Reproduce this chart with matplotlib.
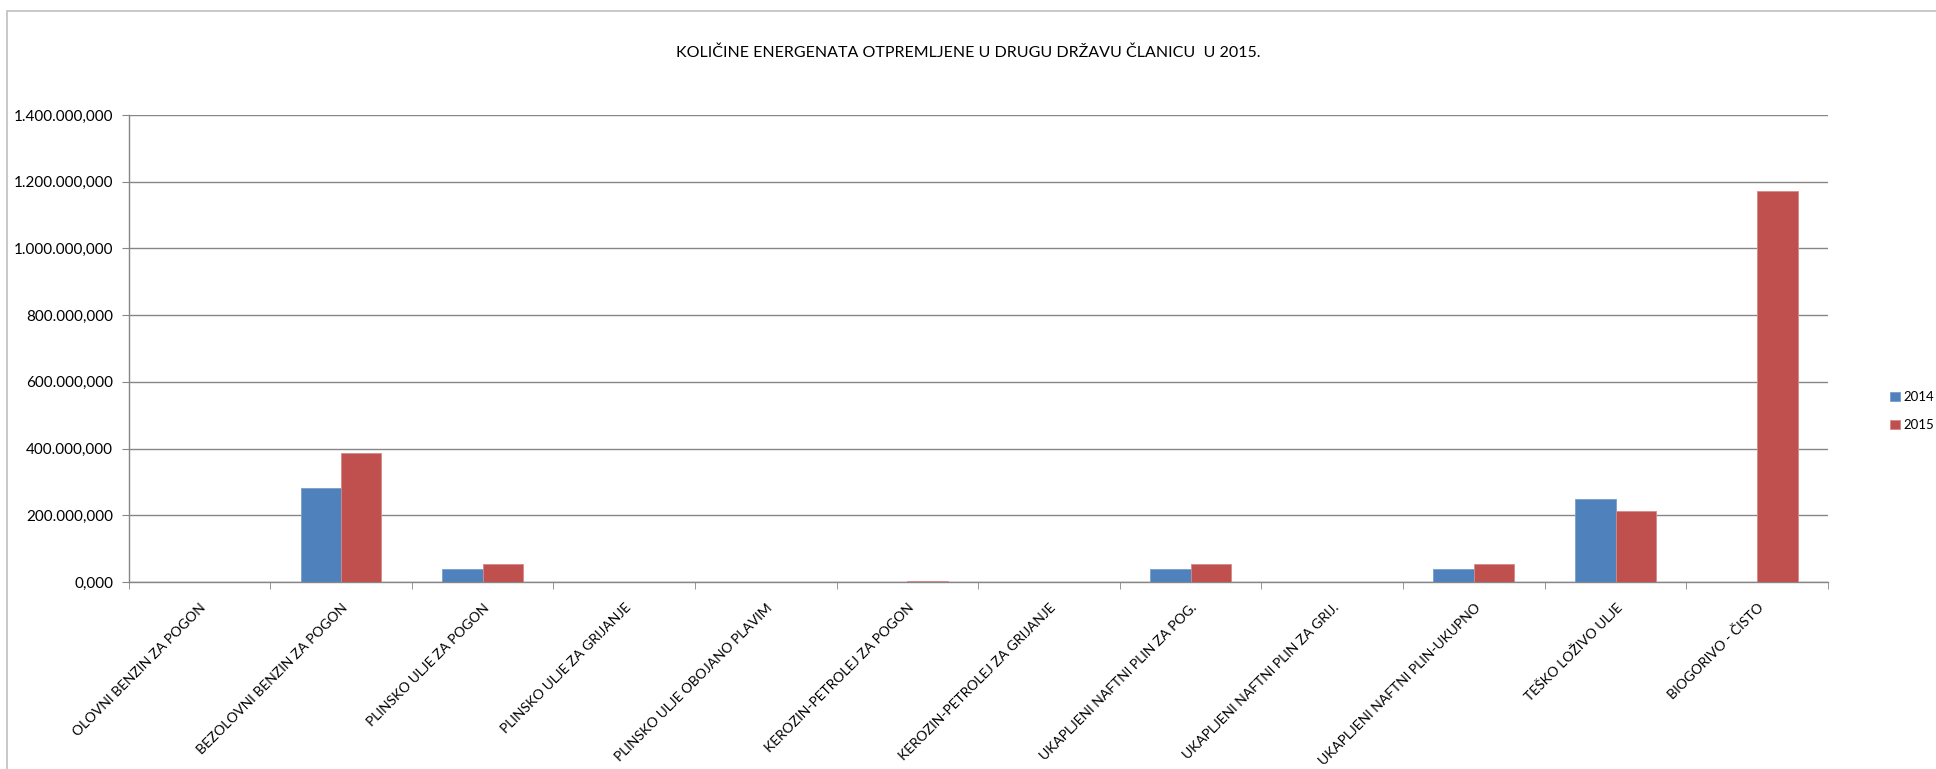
import numpy as np
import matplotlib
matplotlib.use('Agg')
import matplotlib.pyplot as plt
from matplotlib.patches import Rectangle
from matplotlib.ticker import FuncFormatter, FixedLocator

plt.rcParams['font.family'] = ['Lato', 'DejaVu Sans']

# Podaci (procijenjeno s grafikona)
kategorije = ['OLOVNI BENZIN ZA POGON', 'BEZOLOVNI BENZIN ZA POGON', 'PLINSKO ULJE ZA POGON',
              'PLINSKO ULJE ZA GRIJANJE', 'PLINSKO ULJE OBOJANO PLAVIM', 'KEROZIN-PETROLEJ ZA POGON',
              'KEROZIN-PETROLEJ ZA GRIJANJE', 'UKAPLJENI NAFTNI PLIN ZA POG.', 'UKAPLJENI NAFTNI PLIN ZA GRIJ.',
              'UKAPLJENI NAFTNI PLIN-UKUPNO', 'TEŠKO LOŽIVO ULJE', 'BIOGORIVO - ČISTO']
god_2014 = [0, 283000, 39000, 0, 0, 0, 0, 39000, 0, 39000, 250000, 0]
god_2015 = [0, 388000, 55000, 0, 0, 3000, 0, 55000, 0, 55000, 212000, 1171000]
serije = ['2014', '2015']
y_ticks = np.arange(0, 1400000 + 1, 200000)

plava = '#4F81BD'
crvena = '#C0504D'
siva = '#868686'

fig = plt.figure(figsize=(19.36, 7.69), dpi=100)
ax = fig.add_axes([0.0664, 0.2432, 0.8778, 0.6073])

# okvir grafikona
fig.patches.append(Rectangle((7 / 1936, -0.1), 1.2, 1 - 11 / 769 + 0.1, transform=fig.transFigure,
                             fill=False, edgecolor='#BFBFBF', linewidth=1.2))

x = np.arange(len(kategorije))
w = 1 / 3.5
ax.bar(x - w / 2, god_2014, w, color=plava, edgecolor='#7A9DCB', linewidth=0.6, label=serije[0], zorder=3)
ax.bar(x + w / 2, god_2015, w, color=crvena, edgecolor='#D48A88', linewidth=0.6, label=serije[1], zorder=3)

ax.set_xlim(-0.5, len(kategorije) - 0.5)
ax.set_ylim(0, 1400000)
ax.set_yticks(y_ticks)


def fmt(v, pos):
    return f'{int(round(v)):,}'.replace(',', '.') + ',000'


ax.yaxis.set_major_formatter(FuncFormatter(fmt))
ax.grid(axis='y', color=siva, linewidth=1, zorder=0)

for s in ['top', 'right']:
    ax.spines[s].set_visible(False)
for s in ['left', 'bottom']:
    ax.spines[s].set_color(siva)
    ax.spines[s].set_linewidth(1)

ax.tick_params(axis='y', length=5, color=siva, labelsize=11, pad=6)
ax.set_xticks(x)
ax.set_xticklabels(kategorije, rotation=45, ha='right', va='top', rotation_mode='anchor', fontsize=10)
ax.tick_params(axis='x', which='major', length=0, pad=14)
ax.xaxis.set_minor_locator(FixedLocator(np.arange(-0.5, len(kategorije), 1.0)))
ax.tick_params(axis='x', which='minor', length=5, color=siva)

fig.text(0.5, 1 - 53 / 769, 'KOLIČINE ENERGENATA OTPREMLJENE U DRUGU DRŽAVU ČLANICU  U 2015.',
         ha='center', va='center', fontsize=11.5)

ax.legend(loc='center left', bbox_to_anchor=(0.9728, 0.4655), bbox_transform=fig.transFigure,
          frameon=False, fontsize=9.5, handlelength=0.75, handleheight=0.75, handletextpad=0.25,
          labelspacing=1.2, borderpad=0)

fig.savefig('out.png', dpi=100)
